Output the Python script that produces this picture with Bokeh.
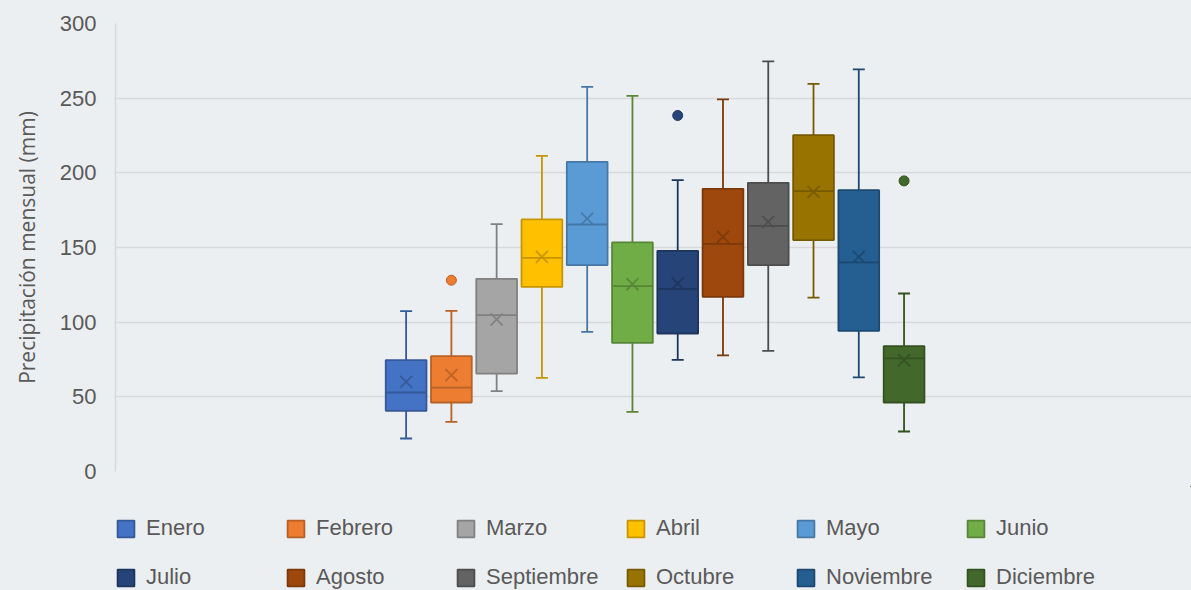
from bokeh.plotting import figure
from bokeh.models import ColumnDataSource, FixedTicker, Range1d, Legend, LegendItem
from bokeh.layouts import column
from bokeh.embed import file_html
from bokeh.resources import INLINE

# ---- data ----
meses = ["Enero", "Febrero", "Marzo", "Abril", "Mayo", "Junio",
         "Julio", "Agosto", "Septiembre", "Octubre", "Noviembre", "Diciembre"]
minimo = [22.1, 33.2, 53.8, 62.7, 93.5, 39.9, 74.8, 77.7, 80.8, 116.5, 63.0, 26.8]
q1 = [40.6, 46.2, 65.6, 123.6, 138.2, 86.1, 92.4, 117.0, 138.2, 155.0, 94.2, 46.2]
mediana = [52.9, 56.2, 104.7, 143.1, 165.4, 124.1, 122.3, 152.4, 164.5, 187.8, 140.0, 75.7]
q3 = [74.6, 77.2, 129.0, 168.8, 207.4, 153.4, 147.8, 189.3, 193.3, 225.2, 188.4, 83.9]
maximo = [107.4, 107.6, 165.6, 211.4, 257.6, 251.6, 195.1, 249.2, 274.6, 259.6, 269.3, 119.2]
media = [60.0, 64.5, 101.8, 143.7, 169.4, 125.4, 125.9, 157.1, 167.2, 187.3, 143.7, 74.5]
atipico_mes = ["Febrero", "Julio", "Diciembre"]
atipico_valor = [128.1, 238.4, 194.6]
y_ticks = [0, 50, 100, 150, 200, 250, 300]
colores = ["#4472C4", "#ED7D31", "#A5A5A5", "#FFC000", "#5B9BD5", "#70AD47",
           "#264478", "#9E480E", "#636363", "#997300", "#255E91", "#43682B"]


def oscurecer(c, f=0.78):
    r, g, b = int(c[1:3], 16), int(c[3:5], 16), int(c[5:7], 16)
    return "#%02x%02x%02x" % (int(r * f), int(g * f), int(b * f))


lineas = [oscurecer(c) for c in colores]
pos = list(range(1, len(meses) + 1))
ancho = 0.9

src = ColumnDataSource(dict(
    x=pos, mes=meses, minimo=minimo, q1=q1, mediana=mediana, q3=q3,
    maximo=maximo, media=media, color=colores, linea=lineas,
    x0=[p - ancho / 2 for p in pos], x1=[p + ancho / 2 for p in pos],
))
idx = [meses.index(m) for m in atipico_mes]
src_out = ColumnDataSource(dict(
    x=[pos[i] for i in idx], y=atipico_valor,
    color=[colores[i] for i in idx], linea=[lineas[i] for i in idx],
))

BG = "#eceff2"
TXT = "#595959"

p = figure(width=1191, height=486, x_range=Range1d(-5.42, 18.35), y_range=Range1d(0, 300),
           output_backend="svg", toolbar_location=None, x_axis_location=None,
           min_border_left=115, min_border_right=0, min_border_top=23, min_border_bottom=15)
p.background_fill_color = BG
p.border_fill_color = BG
p.outline_line_color = None
p.xgrid.visible = False
p.ygrid.grid_line_color = "#d6d8db"
p.ygrid.grid_line_width = 1.5

ax = p.yaxis[0]
ax.ticker = FixedTicker(ticks=y_ticks)
ax.major_tick_line_color = None
ax.minor_tick_line_color = None
ax.axis_line_color = "#d6d8db"
ax.axis_line_width = 1.5
ax.major_label_text_font = "Liberation Sans"
ax.major_label_text_font_size = "22px"
ax.major_label_text_color = TXT
ax.major_label_standoff = 13
ax.axis_label = "Precipitación mensual (mm)"
ax.axis_label_text_font = "Open Sans"
ax.axis_label_text_font_style = "normal"
ax.axis_label_text_font_size = "21px"
ax.axis_label_text_color = TXT
ax.axis_label_standoff = 16

# whiskers
p.segment(x0="x", y0="q3", x1="x", y1="maximo", source=src, line_color="linea", line_width=1.8)
p.segment(x0="x", y0="q1", x1="x", y1="minimo", source=src, line_color="linea", line_width=1.8)
p.scatter(x="x", y="maximo", source=src, marker="dash", size=12, line_color="linea", line_width=1.8)
p.scatter(x="x", y="minimo", source=src, marker="dash", size=12, line_color="linea", line_width=1.8)

# boxes
p.vbar(x="x", width=ancho, top="q3", bottom="q1", source=src, fill_color="color",
       line_color="linea", line_width=1.8)
# median
p.segment(x0="x0", y0="mediana", x1="x1", y1="mediana", source=src, line_color="linea", line_width=1.8)
# mean
p.scatter(x="x", y="media", source=src, marker="x", size=17, line_color="linea", line_width=1.8,
          line_alpha=0.9)
# outliers
p.scatter(x="x", y="y", source=src_out, marker="circle", size=10, fill_color="color",
          line_color="linea", line_width=1)

# ---- legend strip below the plot ----
lg = figure(width=1191, height=104, x_range=Range1d(-1000, -999), y_range=Range1d(-1000, -999),
            output_backend="svg", toolbar_location=None, x_axis_location=None, y_axis_location=None,
            min_border=0)
lg.background_fill_color = BG
lg.background_fill_alpha = 0
lg.border_fill_color = BG
lg.outline_line_color = None
lg.grid.visible = False
muestras = lg.vbar(x="x", width=ancho, top="q3", bottom="q1", source=src, fill_color="color",
                   line_color="linea", line_width=1.8)
items = [LegendItem(label=m, renderers=[muestras], index=i) for i, m in enumerate(meses)]
leg = Legend(items=items, ncols=6, orientation="horizontal", location=(0, 0),
             glyph_width=21, glyph_height=21, label_height=21, label_width=116,
             label_standoff=10, spacing=23, padding=0, margin=0,
             border_line_alpha=0, background_fill_alpha=0,
             label_text_font="Liberation Sans", label_text_font_size="22px",
             label_text_color=TXT)
lg.add_layout(leg, "center")

layout = column(p, lg, spacing=0, styles={"background-color": BG})
open("out.html", "w").write(file_html(layout, INLINE))
